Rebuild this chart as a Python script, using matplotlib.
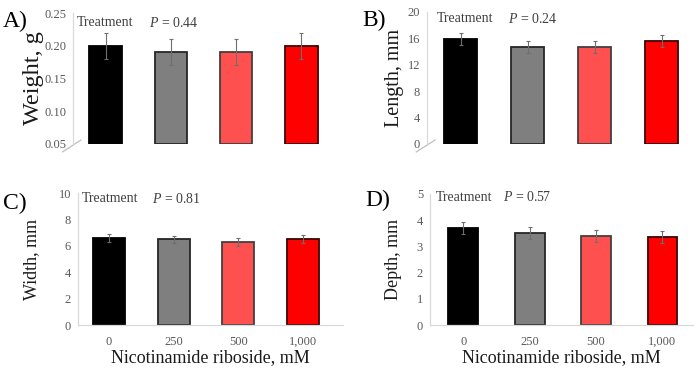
import matplotlib
matplotlib.use("Agg")
import matplotlib.pyplot as plt
from matplotlib.lines import Line2D

plt.rcParams['font.family'] = ['Liberation Serif', 'DejaVu Serif']
plt.rcParams['mathtext.fontset'] = 'custom'
plt.rcParams['mathtext.rm'] = 'Liberation Serif'
plt.rcParams['mathtext.it'] = 'Liberation Serif:italic'

categories = ["0", "250", "500", "1,000"]
bar_colors = ["#000000", "#7f7f7f", "#ff5050", "#ff0000"]
edge_colors = ["#000000", "#262626", "#404040", "#3a0000"]

weight = [0.20, 0.19, 0.19, 0.20]
weight_err = [0.02, 0.02, 0.02, 0.02]
length = [15.9, 14.7, 14.7, 15.6]
length_err = [0.95, 0.95, 0.95, 0.95]
width = [6.6, 6.5, 6.3, 6.5]
width_err = [0.3, 0.28, 0.28, 0.3]
depth = [3.7, 3.52, 3.4, 3.35]
depth_err = [0.22, 0.22, 0.22, 0.23]

W, H = 700, 373

panels = [
    dict(label="A)", lab_xy=(3, 21), ylabel="Weight, g", ylsize=17.5, yl_x=33,
         vals=weight, err=weight_err, p="0.44",
         ylim=(0.05, 0.25), ticks=[0.05, 0.10, 0.15, 0.20, 0.25], fmt="{:.2f}",
         px=(73, 334, 13, 144), xlim=(-0.5, 3.5), xaxis=False, bw=0.5,
         tr=(0.015, 0.924), pp=0.291),
    dict(label="B)", lab_xy=(362, 20), ylabel="Length, mm", ylsize=14.5, yl_x=395,
         vals=length, err=length_err, p="0.24",
         ylim=(0, 20), ticks=[0, 4, 8, 12, 16, 20], fmt="{:.0f}",
         px=(427, 695, 12, 144), xlim=(-0.5, 3.5), xaxis=False, bw=0.5,
         tr=(0.037, 0.947), pp=0.302),
    dict(label="C)", lab_xy=(3, 203), ylabel="Width, mm", ylsize=13, yl_x=32,
         vals=width, err=width_err, p="0.81",
         ylim=(0, 10), ticks=[0, 2, 4, 6, 8, 10], fmt="{:.0f}",
         px=(78, 343, 193, 325), xlim=(-0.48, 3.62), xaxis=True, bw=0.5,
         tr=(0.015, 0.955), pp=0.28),
    dict(label="D)", lab_xy=(365, 200), ylabel="Depth, mm", ylsize=13, yl_x=393,
         vals=depth, err=depth_err, p="0.57",
         ylim=(0, 5), ticks=[0, 1, 2, 3, 4, 5], fmt="{:.0f}",
         px=(430, 693, 194, 325), xlim=(-0.5, 3.46), xaxis=True, bw=0.45,
         tr=(0.023, 0.977), pp=0.278),
]

fig = plt.figure(figsize=(W / 100, H / 100), dpi=100)
tick_color = "#595959"
spine_color = "#d9d9d9"

for pn in panels:
    x0, x1, y0, y1 = pn["px"]
    rect = [x0 / W, (H - y1) / H, (x1 - x0) / W, (y1 - y0) / H]
    ax = fig.add_axes(rect)
    x = list(range(len(categories)))
    ax.bar(x, [v - pn["ylim"][0] for v in pn["vals"]], bottom=pn["ylim"][0],
           width=pn["bw"], color=bar_colors, edgecolor=edge_colors, linewidth=1.3, zorder=2)
    ax.errorbar(x, pn["vals"], yerr=pn["err"], fmt="none", ecolor="#6e6e6e",
                elinewidth=0.8, capsize=1.6, capthick=0.8, zorder=3)
    ax.set_ylim(*pn["ylim"])
    ax.set_xlim(*pn["xlim"])
    ax.set_yticks(pn["ticks"])
    ax.set_yticklabels([pn["fmt"].format(t) for t in pn["ticks"]], color=tick_color, fontsize=9)
    ax.tick_params(axis="y", length=0, pad=5)
    for s in ["top", "right"]:
        ax.spines[s].set_visible(False)
    ax.spines["left"].set_color(spine_color)
    ax.spines["left"].set_linewidth(0.9)
    if pn["xaxis"]:
        ax.spines["bottom"].set_color(spine_color)
        ax.spines["bottom"].set_linewidth(0.9)
        ax.set_xticks(x)
        ax.set_xticklabels(categories, color=tick_color, fontsize=9)
        ax.tick_params(axis="x", length=0, pad=8)
        ax.set_xlabel("Nicotinamide riboside, mM", fontsize=13, color="#1a1a1a", labelpad=1)
    else:
        ax.spines["bottom"].set_visible(False)
        ax.set_xticks([])
        ax.add_line(Line2D([-0.04, 0.03], [-0.06, 0.03], transform=ax.transAxes,
                           color="#bfbfbf", linewidth=0.9, clip_on=False))
    ax.set_ylabel(pn["ylabel"], fontsize=pn["ylsize"], color="#1a1a1a", va="center")
    ax.yaxis.set_label_coords((pn["yl_x"] - x0) / (x1 - x0), 0.5)
    ax.text(pn["tr"][0], pn["tr"][1], "Treatment", transform=ax.transAxes, fontsize=10,
            color="#404040", va="center", ha="left")
    ax.text(pn["pp"], pn["tr"][1], "$P$ = " + pn["p"], transform=ax.transAxes, fontsize=10,
            color="#404040", va="center", ha="left")
    lx, ly = pn["lab_xy"]
    fig.text(lx / W, (H - ly) / H, pn["label"],
             fontsize=17, color="#000000", va="center", ha="left")

fig.savefig("out.png", dpi=100, facecolor="white")
